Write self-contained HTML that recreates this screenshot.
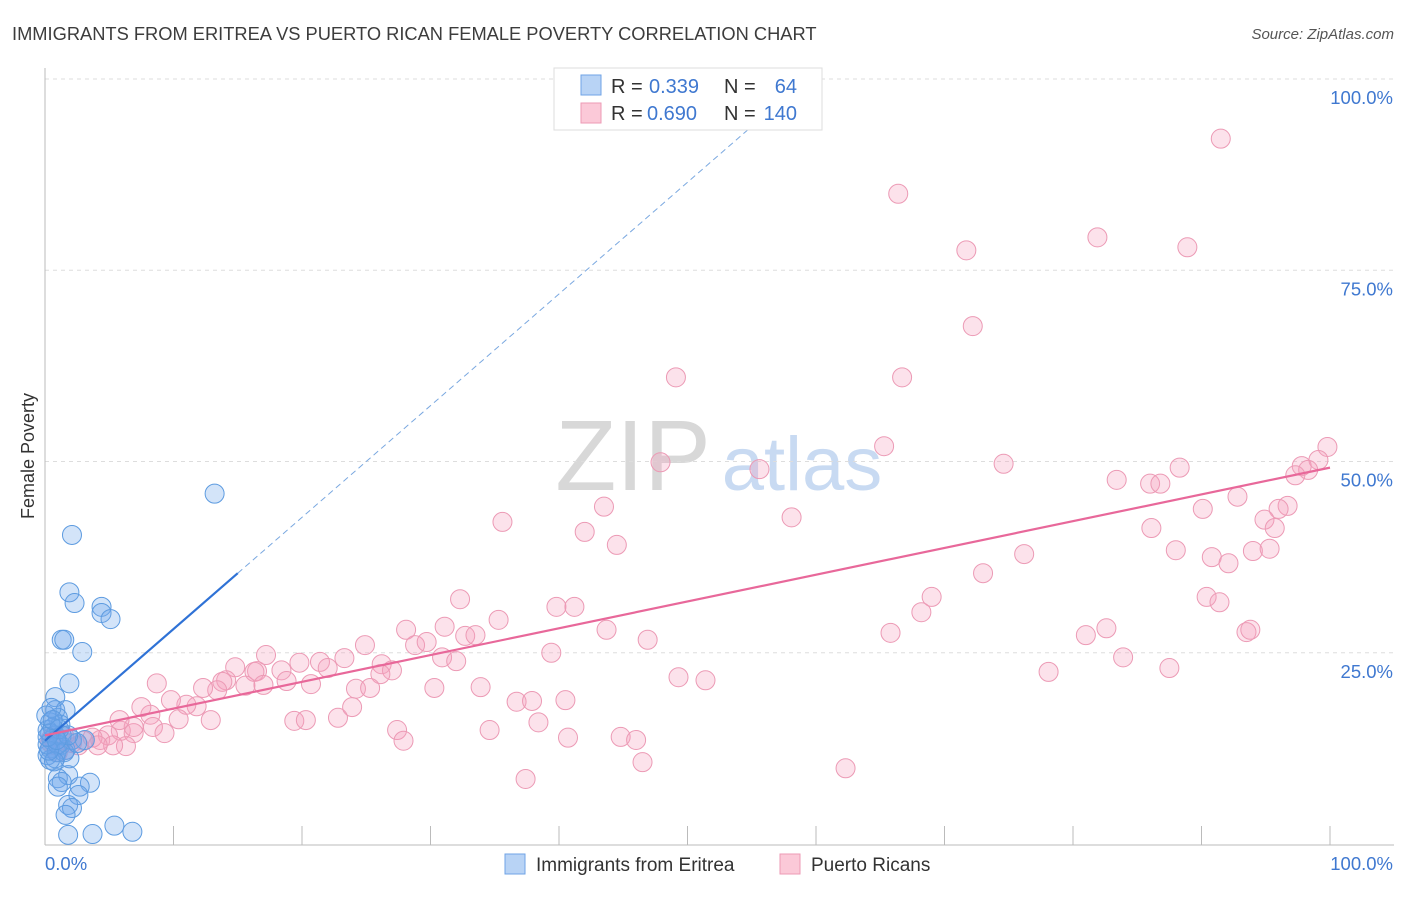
<!DOCTYPE html>
<html><head><meta charset="utf-8"><style>
body{margin:0;background:#fff;font-family:"Liberation Sans",sans-serif}
svg text{font-family:"Liberation Sans",sans-serif}
</style></head><body>
<svg width="1406" height="892" id="c">
<text x="12" y="40" font-size="18.3" fill="#3c3c3c">IMMIGRANTS FROM ERITREA VS PUERTO RICAN FEMALE POVERTY CORRELATION CHART</text>
<text x="1394" y="39" font-size="15" fill="#555" font-style="italic" text-anchor="end">Source: ZipAtlas.com</text>
<text x="34" y="456" font-size="18" fill="#333" text-anchor="middle" transform="rotate(-90 34 456)">Female Poverty</text>
<g>
<text x="633" y="490" font-size="100" fill="#d8d8d8" font-family="Liberation Serif" text-anchor="middle">ZIP</text>
<text x="802" y="490" font-size="76" fill="#c8daf2" text-anchor="middle">atlas</text></g>
<g id="grid"></g><g id="axes"></g><g id="pink"></g><g id="blue"></g><g id="lines"></g>
<g>
<rect x="554" y="68" width="268" height="62" fill="#fff" stroke="#ddd"/>
<rect x="581" y="75" width="20" height="20" fill="#b8d3f5" stroke="#6fa3e6"/>
<rect x="581" y="103" width="20" height="20" fill="#fbc9d8" stroke="#ec9ab5"/>
<text x="611" y="93" font-size="20" fill="#333">R =</text>
<text x="649" y="93" font-size="20" fill="#3f78d0">0.339</text>
<text x="724" y="93" font-size="20" fill="#333">N =</text>
<text x="797" y="93" font-size="20" fill="#3f78d0" text-anchor="end">64</text>
<text x="611" y="120" font-size="20" fill="#333">R =</text>
<text x="647" y="120" font-size="20" fill="#3f78d0">0.690</text>
<text x="724" y="120" font-size="20" fill="#333">N =</text>
<text x="797" y="120" font-size="20" fill="#3f78d0" text-anchor="end">140</text></g>
<g>
<rect x="505" y="854" width="20" height="20" fill="#b8d3f5" stroke="#6fa3e6"/>
<text x="536" y="871" font-size="19" fill="#333">Immigrants from Eritrea</text>
<rect x="780" y="854" width="20" height="20" fill="#fbc9d8" stroke="#ec9ab5"/>
<text x="811" y="871" font-size="19" fill="#333">Puerto Ricans</text></g>
</svg>
<script>
const yTicks=[25,50,75,100];
const yTickLabels=["25.0%","50.0%","75.0%","100.0%"];
const xTicks=[0,10,20,30,40,50,60,70,80,90,100];
const blueX=[13.2,2.1,1.9,2.3,4.4,4.4,5.1,1.3,1.5,2.9,1.9,0.8,0.8,1.6,1.0,0.4,1.2,0.2,0.8,0.5,1.2,0.4,1.6,2.1,3.1,0.2,0.8,1.9,1.8,1.0,1.3,3.5,2.7,1.0,2.6,1.8,2.1,1.6,1.8,3.7,5.4,6.8,0.4,0.2,0.6,1.3,0.9,0.4,0.1,1.0,0.5,1.5,0.7,2.5,0.3,1.1,0.2,0.6,1.8,0.9];
const blueY=[45.8,40.4,32.9,31.5,31.0,30.2,29.4,26.7,26.7,25.1,21.0,19.2,17.5,17.5,16.5,15.9,15.6,14.9,14.2,13.6,12.9,12.5,12.3,13.6,13.6,11.6,11.2,11.2,9.0,8.6,8.1,8.0,7.5,7.5,6.4,5.1,4.7,3.8,1.2,1.3,2.4,1.6,11.0,13.0,15.2,14.2,12.0,14.5,16.8,13.0,17.8,12.0,10.8,13.2,12.2,15.0,14.0,16.2,14.2,13.6];
const pinkX=[91.5,66.4,81.9,88.9,71.7,72.2,49.1,66.7,65.3,99.8,47.9,55.6,74.6,88.3,97.8,99.1,98.3,97.3,83.4,86.0,86.8,43.5,35.6,90.1,92.8,96.7,96.0,94.9,95.7,58.1,42.0,86.1,44.5,88.0,90.8,92.1,94.0,95.3,76.2,73.0,32.3,39.8,41.2,69.0,68.2,90.4,91.4,35.3,28.1,31.1,28.8,29.7,32.7,33.5,24.9,43.7,46.9,65.8,81.0,82.6,93.5,93.8,39.4,30.9,32.0,19.8,21.4,23.3,17.2,14.8,16.5,18.4,16.3,14.1,13.8,26.2,27.0,26.1,22.0,20.7,13.4,12.3,8.7,15.6,18.8,17.0,24.2,25.3,30.3,33.9,83.9,78.1,87.5,49.3,51.4,11.8,11.0,9.8,8.2,7.5,10.4,12.9,19.4,20.3,22.8,23.9,36.7,37.9,40.5,34.6,38.4,27.4,27.9,40.7,44.8,46.0,46.5,37.4,62.3,8.4,9.3,5.9,4.9,4.3,6.9,6.3,5.3,3.7,4.1,3.0,2.6,2.1,1.3,1.6,0.8,0.5,1.0,1.5,0.4,6.9,5.8];
const pinkY=[92.2,85.0,79.3,78.0,77.6,67.7,61.0,61.0,52.0,51.9,49.9,49.0,49.7,49.2,49.4,50.2,48.9,48.2,47.6,47.1,47.1,44.1,42.1,43.8,45.4,44.2,43.8,42.4,41.3,42.7,40.8,41.3,39.1,38.4,37.5,36.7,38.3,38.6,37.9,35.4,32.0,31.0,31.0,32.3,30.3,32.3,31.6,29.3,28.0,28.4,26.0,26.4,27.2,27.3,26.0,28.0,26.7,27.6,27.3,28.2,27.7,28.0,25.0,24.4,23.9,23.7,23.8,24.3,24.7,23.1,22.6,22.7,22.5,21.4,21.2,23.5,22.7,22.2,23.0,20.9,20.1,20.4,21.0,20.7,21.3,20.8,20.3,20.4,20.4,20.5,24.4,22.5,23.0,21.8,21.4,18.0,18.2,18.8,16.9,17.9,16.3,16.2,16.1,16.2,16.5,17.9,18.6,18.7,18.8,14.9,15.9,14.9,13.5,13.9,14.0,13.6,10.7,8.5,9.9,15.3,14.5,14.8,14.2,13.6,14.5,12.8,12.9,13.9,12.9,13.5,12.9,13.2,13.6,12.3,12.9,13.9,12.0,14.1,13.3,15.3,16.2];
const blueFit=[13.5,1.46], pinkFit=[14.2,0.35];
const X=v=>45+v*12.85, Y=v=>844-v*7.65;
const NS="http://www.w3.org/2000/svg";
function mk(t,a,p){const e=document.createElementNS(NS,t);for(const k in a)e.setAttribute(k,a[k]);document.getElementById(p).appendChild(e);return e;}
yTicks.forEach((t,i)=>{
 const l=mk('line',{x1:45,x2:1394,y1:Y(t),y2:Y(t),stroke:'#ddd','stroke-dasharray':'4,4'},'grid');
 
 
 const tx=mk('text',{x:1393,y:Y(t)+25,'font-size':18.5,fill:'#3f78d0','text-anchor':'end'},'axes');
 tx.textContent=yTickLabels[i];
 
 
});
const ax=mk('line',{x1:45,x2:45,y1:68,y2:845,stroke:'#bbb'},'axes');


const bx=mk('line',{x1:45,x2:1394,y1:845,y2:845,stroke:'#bbb'},'axes');


xTicks.forEach(t=>{const l=mk('line',{x1:X(t),x2:X(t),y1:826,y2:845,stroke:'#bbb'},'axes');
 
 });
const x0=mk('text',{x:45,y:870,'font-size':18.5,fill:'#3f78d0'},'axes');x0.textContent='0.0%';


const x1=mk('text',{x:1393,y:870,'font-size':18.5,fill:'#3f78d0','text-anchor':'end'},'axes');x1.textContent='100.0%';


pinkX.forEach((v,i)=>{const c=mk('circle',{cx:X(v),cy:Y(pinkY[i]),r:9.5,fill:'rgba(245,160,190,0.3)',stroke:'#ec9ab5','stroke-width':1},'pink');
 
 });
blueX.forEach((v,i)=>{const c=mk('circle',{cx:X(v),cy:Y(blueY[i]),r:9.5,fill:'rgba(110,165,235,0.3)',stroke:'#5d9be0','stroke-width':1},'blue');
 
 });
const bl=mk('line',{x1:X(0),y1:Y(blueFit[0]),x2:X(15),y2:Y(blueFit[0]+blueFit[1]*15),stroke:'#2f72d6','stroke-width':2.2},'lines');


const bd=mk('line',{x1:X(15),y1:Y(blueFit[0]+blueFit[1]*15),x2:X(55),y2:Y(blueFit[0]+blueFit[1]*55),stroke:'#7aa8e0','stroke-width':1,'stroke-dasharray':'6,4'},'lines');


const pl=mk('line',{x1:X(0),y1:Y(pinkFit[0]),x2:X(100),y2:Y(pinkFit[0]+pinkFit[1]*100),stroke:'#e8689a','stroke-width':2.2},'lines');


</script>
</body></html>
